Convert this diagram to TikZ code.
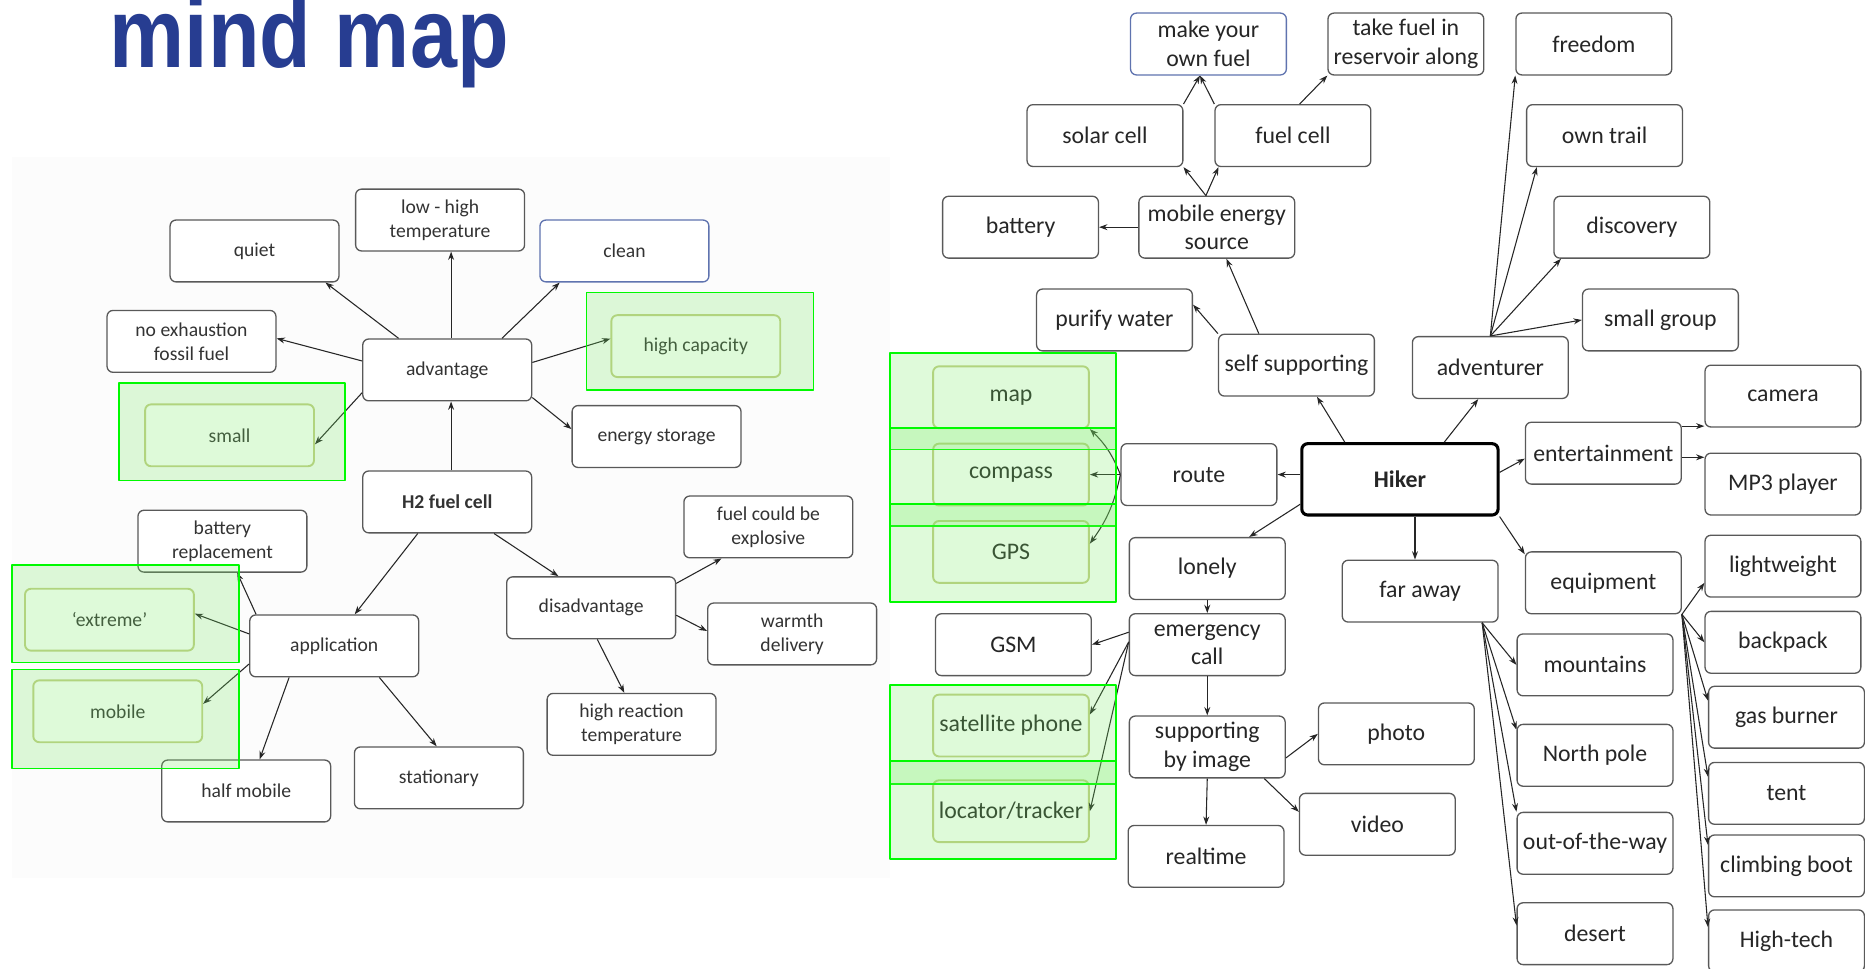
\documentclass[tikz,border=0pt]{standalone}
\usepackage{fontspec}
\setmainfont{Carlito}
\newfontfamily\titlefont{Liberation Sans}
\usetikzlibrary{arrows.meta}
\definecolor{titleblue}{RGB}{39,61,145}
\definecolor{boxblue}{RGB}{95,115,175}
\definecolor{hlgreen}{RGB}{0,250,0}
\definecolor{hlfill}{RGB}{120,235,100}
\definecolor{hledge}{RGB}{195,205,135}
\begin{document}
\begin{tikzpicture}[x=1pt,y=-1pt,line join=round,>={Stealth[length=7pt,width=5pt]}]
\tikzset{lbox/.style={draw=black!65,line width=1.1pt,rounded corners=5pt,fill=white,minimum width=142pt,minimum height=52pt,align=center,inner sep=2pt,text=black!80,font=\fontsize{16.5}{20}\selectfont},
  rbox/.style={lbox,minimum width=131pt,text=black!85,font=\fontsize{20}{24}\selectfont},
  bluebox/.style={draw=boxblue},
  hlbox/.style={draw=hledge,line width=1.6pt},
  hiker/.style={rbox,draw=black,line width=2.6pt,minimum width=165pt,minimum height=60pt,font=\fontsize{20}{24}\selectfont\bfseries},
  arr/.style={->,black!85,line width=0.9pt},
  hlframe/.style={draw=hlgreen,line width=1.4pt,fill=hlfill,fill opacity=0.24}}
\useasboundingbox (0,0) rectangle (1568,814);
\fill[black!1] (10,132) rectangle (748,738);
\node[anchor=base,text=titleblue,font=\titlefont\bfseries\fontsize{71}{71}\selectfont] (title) at (260,57) {\scalebox{1}[1.17]{mind map}};
\node[lbox] (quiet) at (214,211) {quiet};
\node[lbox] (lowhigh) at (370,185) {low - high\\temperature};
\node[lbox,bluebox] (clean) at (525,211) {clean};
\node[lbox] (noexh) at (161,287) {no exhaustion\\fossil fuel};
\node[lbox] (adv) at (376,311) {advantage};
\node[lbox,hlbox] (highcap) at (585,291) {high capacity};
\node[lbox,hlbox] (small) at (193,366) {small};
\node[lbox] (energy) at (552,367) {energy storage};
\node[lbox,font=\fontsize{16.5}{20}\selectfont\bfseries] (h2) at (376,422) {H2 fuel cell};
\node[lbox] (battrep) at (187,455) {battery\\replacement};
\node[lbox,hlbox] (extreme) at (92,521) {‘extreme’};
\node[lbox] (app) at (281,543) {application};
\node[lbox,hlbox] (mobile) at (99,598) {mobile};
\node[lbox] (halfmob) at (207,665) {half mobile};
\node[lbox] (stat) at (369,654) {stationary};
\node[lbox] (dis) at (497,511) {disadvantage};
\node[lbox] (explo) at (646,443) {fuel could be\\explosive};
\node[lbox] (warmth) at (666,533) {warmth\\delivery};
\node[lbox] (highreac) at (531,609) {high reaction\\temperature};
\draw[arr] (adv.147) -- (quiet.-24);
\draw[arr] (adv.83) -- (adv.83 |- lowhigh.south);
\draw[arr] (adv.30) -- (clean.-154);
\draw[arr] (adv.174) -- (noexh.2);
\draw[arr] (adv.5) -- (highcap.175);
\draw[arr] (adv.-165) -- (small.-6);
\draw[arr] (adv.-18) -- (energy.175);
\draw[arr] (h2.83) -- (h2.83 |- adv.south);
\draw[arr] (h2.-133) -- (app.57);
\draw[arr] (h2.-34) -- (dis.136);
\draw[arr] (app.158) -- (battrep.-65);
\draw[arr] (app.172) -- (extreme.4);
\draw[arr] (app.-168) -- (mobile.5);
\draw[arr] (app.-145) -- (halfmob.67);
\draw[arr] (app.-35) -- (stat.94);
\draw[arr] (dis.16) -- (explo.-146);
\draw[arr] (dis.-5) -- (warmth.178);
\draw[arr] (dis.-79) -- (highreac.103);
\node[rbox,bluebox] (ownfuel) at (1016,37) {make your\\own fuel};
\node[rbox] (takefuel) at (1182,37) {take fuel in\\reservoir along};
\node[rbox] (freedom) at (1340,37) {freedom};
\node[rbox] (solar) at (929,114) {solar cell};
\node[rbox] (fuelcell) at (1087,114) {fuel cell};
\node[rbox] (trail) at (1349,114) {own trail};
\node[rbox] (battery) at (858,191) {battery};
\node[rbox] (mobsrc) at (1023,191) {mobile energy\\source};
\node[rbox] (discovery) at (1372,191) {discovery};
\node[rbox] (purify) at (937,269) {purify water};
\node[rbox] (group) at (1396,269) {small group};
\node[rbox] (selfsup) at (1090,307) {self supporting};
\node[rbox] (adventurer) at (1253,309) {adventurer};
\node[rbox,hlbox] (map) at (850,334) {map};
\node[rbox] (camera) at (1499,333) {camera};
\node[rbox] (route) at (1008,399) {route};
\node[hiker] (hiker) at (1177,403) {Hiker};
\node[rbox] (ent) at (1348,381) {entertainment};
\node[rbox] (mp3) at (1499,407) {MP3 player};
\node[rbox,hlbox] (compass) at (850,399) {compass};
\node[rbox,hlbox] (gps) at (850,464) {GPS};
\node[rbox] (lonely) at (1015,478) {lonely};
\node[rbox] (faraway) at (1194,497) {far away};
\node[rbox] (equip) at (1348,490) {equipment};
\node[rbox] (light) at (1499,476) {lightweight};
\node[rbox] (gsm) at (852,542) {GSM};
\node[rbox] (emerg) at (1015,542) {emergency\\call};
\node[rbox] (backpack) at (1499,540) {backpack};
\node[rbox] (mountains) at (1341,559) {mountains};
\node[rbox] (gas) at (1502,603) {gas burner};
\node[rbox,hlbox] (sat) at (850,610) {satellite phone};
\node[rbox] (suppimg) at (1015,628) {supporting\\by image};
\node[rbox] (photo) at (1174,617) {photo};
\node[rbox] (npole) at (1341,635) {North pole};
\node[rbox] (tent) at (1502,667) {tent};
\node[rbox,hlbox] (locator) at (850,682) {locator/tracker};
\node[rbox] (video) at (1158,693) {video};
\node[rbox] (realtime) at (1014,720) {realtime};
\node[rbox] (outway) at (1341,709) {out-of-the-way};
\node[rbox] (boot) at (1502,728) {climbing boot};
\node[rbox] (desert) at (1341,785) {desert};
\node[rbox] (hightech) at (1502,791) {High-tech};
\draw[arr] (solar.north east) -- (ownfuel.-105);
\draw[arr] (fuelcell.north west) -- (ownfuel.-105);
\draw[arr] (fuelcell.78) -- (takefuel.south west);
\draw[arr] (mobsrc.109) -- (solar.south east);
\draw[arr] (mobsrc.109) -- (fuelcell.-157);
\draw[arr] (mobsrc.west) -- (battery.east);
\draw[arr] (selfsup.140) -- (mobsrc.-73);
\draw[arr] (selfsup.north west) -- (purify.11);
\draw[arr] (hiker.146) -- (selfsup.-57);
\draw[arr] (hiker.40) -- (adventurer.-111);
\draw[arr] (adventurer.north) -- (freedom.south west);
\draw[arr] (adventurer.north) -- (trail.-155);
\draw[arr] (adventurer.north) -- (discovery.-156);
\draw[arr] (adventurer.north) -- (group.west);
\draw[arr] (hiker.west |- route.east) -- (route.east);
\draw[arr] (hiker.4) -- (ent.-176);
\draw[arr] (ent.19) -- (ent.19 -| camera.west);
\draw[arr] (ent.-3) -- (ent.-3 -| mp3.west);
\draw[arr] (hiker.-166) -- (lonely.37);
\draw[arr] (hiker.-68) -- (hiker.-68 |- faraway.north);
\draw[arr] (hiker.south east) -- (equip.160);
\draw[arr] (route.west) to[bend right=12] (map.south east);
\draw[arr] (route.west) -- (compass.east);
\draw[arr] (route.west) to[bend left=12] (gps.6);
\draw[arr] (lonely.south) -- (emerg.north);
\draw[arr] (emerg.171) -- (gsm.east);
\draw[arr] (emerg.178) -- (sat.8);
\draw[arr] (emerg.178) -- (locator.east);
\draw[arr] (emerg.south) -- (suppimg.north);
\draw[arr] (suppimg.-8) -- (photo.west);
\draw[arr] (suppimg.-29) -- (video.171);
\draw[arr] (suppimg.south) -- (realtime.north);
\draw[arr] (faraway.-27) -- (mountains.west);
\draw[arr] (faraway.-27) -- (npole.162);
\draw[arr] (faraway.-27) -- (outway.north west);
\draw[arr] (faraway.-27) -- (desert.174);
\draw[arr] (equip.south east) -- (light.-168);
\draw[arr] (equip.south east) -- (backpack.west);
\draw[arr] (equip.south east) -- (gas.168);
\draw[arr] (equip.south east) -- (tent.168);
\draw[arr] (equip.south east) -- (boot.165);
\draw[arr] (equip.south east) -- (hightech.170);
\draw[hlframe] (493,246) rectangle (684,328) (100,322) rectangle (290,404);
\draw[hlframe] (10,475) rectangle (201,557) (10,563) rectangle (201,646);
\draw[hlframe] (748,297) rectangle (938,378);
\draw[hlframe] (748,360) rectangle (938,442);
\draw[hlframe] (748,424) rectangle (938,506);
\draw[hlframe] (748,576) rectangle (938,659);
\draw[hlframe] (748,640) rectangle (938,722);
\end{tikzpicture}
\end{document}
